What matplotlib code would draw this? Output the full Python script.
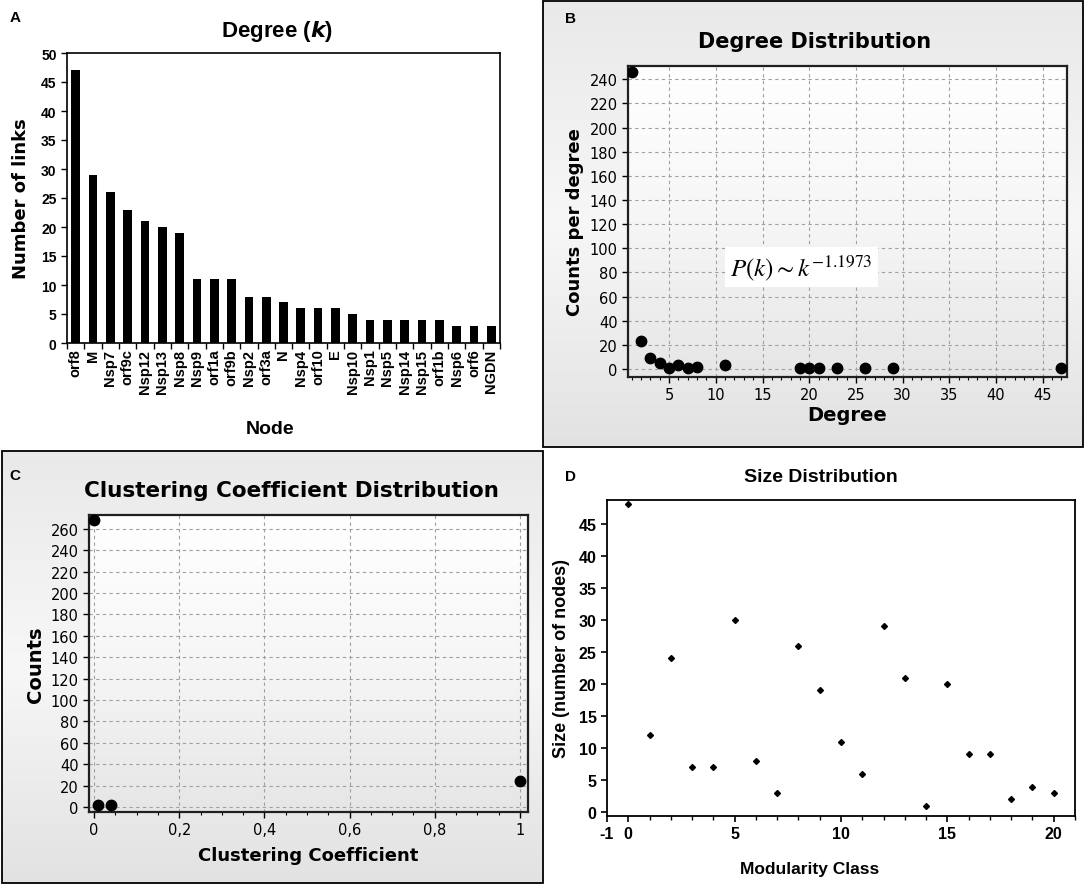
import numpy as np
import matplotlib
matplotlib.use('Agg')
import matplotlib.pyplot as plt
from matplotlib.patches import Rectangle
from matplotlib.colors import LinearSegmentedColormap
from matplotlib.ticker import MultipleLocator, FuncFormatter

# ---- data
# A: number of links per node
nodes = ['orf8', 'M', 'Nsp7', 'orf9c', 'Nsp12', 'Nsp13', 'Nsp8', 'Nsp9', 'orf1a', 'orf9b',
         'Nsp2', 'orf3a', 'N', 'Nsp4', 'orf10', 'E', 'Nsp10', 'Nsp1', 'Nsp5', 'Nsp14',
         'Nsp15', 'orf1b', 'Nsp6', 'orf6', 'NGDN']
links = [47, 29, 26, 23, 21, 20, 19, 11, 11, 11, 8, 8, 7, 6, 6, 6, 5, 4, 4, 4, 4, 4, 3, 3, 3]

# B: degree distribution
degree = [1, 2, 3, 4, 5, 6, 7, 8, 11, 19, 20, 21, 23, 26, 29, 47]
counts_per_degree = [246, 23, 9, 5, 1, 3, 1, 2, 3, 1, 1, 1, 1, 1, 1, 1]

# C: clustering coefficient distribution
clust_coef = [0, 0.008, 0.04, 1]
clust_counts = [268, 2, 2, 24]

# D: modularity class size distribution
mod_class = list(range(21))
mod_size = [48, 12, 24, 7, 7, 30, 8, 3, 26, 19, 11, 6, 29, 21, 1, 20, 9, 9, 2, 4, 3]

W, H = 1085, 887
plt.rcParams['font.family'] = 'DejaVu Sans'
plt.rcParams['axes.unicode_minus'] = False
fig = plt.figure(figsize=(W / 100, H / 100), dpi=100)
fig.patch.set_facecolor('white')


def box(left, top, right, bottom):
    return [left / W, (H - bottom) / H, (right - left) / W, (bottom - top) / H]


# background layer in pixel coords
bg = fig.add_axes([0, 0, 1, 1], zorder=-1)


def gradient(x0, y0, x1, y1, colors):
    cmap = LinearSegmentedColormap.from_list('g', colors)
    img = np.linspace(0, 1, 256).reshape(-1, 1)
    bg.imshow(img, cmap=cmap, extent=(x0, x1, y1, y0), aspect='auto', interpolation='bilinear')


gradient(543, 2, 1083, 448, ['#e9e9e9', '#f7f7f7', '#e2e2e2'])
gradient(2, 452, 543, 884, ['#e9e9e9', '#f7f7f7', '#e2e2e2'])
gradient(628, 67, 1067, 378, ['#ffffff', '#f6f6f6', '#e6e6e6'])
gradient(89, 516, 528, 813, ['#ffffff', '#f6f6f6', '#e6e6e6'])
bg.add_patch(Rectangle((543, 2), 540, 446, fill=False, ec='black', lw=1.3))
bg.add_patch(Rectangle((2, 452), 541, 432, fill=False, ec='black', lw=1.3))
bg.set_xlim(0, W)
bg.set_ylim(H, 0)
bg.axis('off')

lab_font = dict(family='Liberation Sans', fontweight='bold', fontsize=11)
bg.text(15, 18, 'A', ha='center', va='center', **lab_font)
bg.text(570, 19, 'B', ha='center', va='center', **lab_font)
bg.text(15, 476, 'C', ha='center', va='center', **lab_font)
bg.text(570, 477, 'D', ha='center', va='center', **lab_font)

# ---- A: bar chart
axA = fig.add_axes(box(67, 54, 500, 344))
x = np.arange(len(nodes))
axA.bar(x, links, width=0.5, color='black')
axA.set_xlim(-0.5, len(nodes) - 0.5)
axA.set_ylim(0, 50)
axA.set_yticks(range(0, 51, 5))
axA.set_xticks(np.arange(-0.5, len(nodes), 1))
axA.set_xticklabels([])
axA.set_xticks(x, minor=True)
axA.set_xticklabels(nodes, minor=True, rotation=90, fontsize=10.5, fontweight='bold',
                    family='Liberation Sans')
axA.tick_params(axis='x', which='major', length=4, width=1)
axA.tick_params(axis='x', which='minor', length=0, pad=4)
axA.tick_params(axis='y', length=4, width=1)
for t in axA.get_yticklabels():
    t.set_fontweight('bold')
    t.set_family('Liberation Sans')
    t.set_fontsize(10)
for s in axA.spines.values():
    s.set_linewidth(1.2)
axA.set_title('Degree ($\\mathbfit{k}$)', fontsize=16, fontweight='bold',
              family='Liberation Sans', pad=12, x=0.485)
axA.set_ylabel('Number of links', fontsize=13, fontweight='bold', labelpad=8)
axA.set_xlabel('Node', fontsize=14, fontweight='bold', family='Liberation Sans',
               labelpad=20, x=0.469)


def style_java(ax):
    ax.set_facecolor('none')
    ax.grid(True, which='major', color='#a0a0a0', linestyle=(0, (3, 3)), linewidth=0.8)
    ax.set_axisbelow(True)
    for s in ax.spines.values():
        s.set_linewidth(1.6)
        s.set_color('#202020')
    ax.tick_params(which='major', length=4, width=1, labelsize=10.5)
    ax.tick_params(which='minor', length=2.5, width=0.8)


# ---- B: degree distribution
axB = fig.add_axes(box(628, 67, 1067, 378))
style_java(axB)
axB.plot(degree, counts_per_degree, 'o', color='black', markersize=7.5, zorder=3)
axB.set_xlim(0.6, 47.6)
axB.set_ylim(-6.7, 251)
axB.xaxis.set_major_locator(MultipleLocator(5))
axB.xaxis.set_minor_locator(MultipleLocator(1))
axB.yaxis.set_major_locator(MultipleLocator(20))
axB.set_title('Degree Distribution', fontsize=15, fontweight='bold', pad=14, x=0.424)
axB.set_ylabel('Counts per degree', fontsize=13, fontweight='bold', labelpad=4)
axB.set_xlabel('Degree', fontsize=14, fontweight='bold', labelpad=2)
axB.text(0.395, 0.354, '$P\\left(k\\right) \\sim k^{-1.1973}$', transform=axB.transAxes,
         ha='center', va='center', fontsize=18, math_fontfamily='stix',
         bbox=dict(facecolor='white', edgecolor='none', pad=4), zorder=4)

# ---- C: clustering coefficient distribution
axC = fig.add_axes(box(89, 516, 528, 813))
style_java(axC)
axC.plot(clust_coef, clust_counts, 'o', color='black', markersize=7.5, zorder=3, clip_on=False)
axC.set_xlim(-0.012, 1.019)
axC.set_ylim(-4.7, 273)
axC.xaxis.set_major_locator(MultipleLocator(0.2))
axC.xaxis.set_minor_locator(MultipleLocator(0.05))
axC.yaxis.set_major_locator(MultipleLocator(20))
axC.xaxis.set_major_formatter(FuncFormatter(lambda v, p: ('%g' % round(v, 2)).replace('.', ',')))
axC.set_title('Clustering Coefficient Distribution', fontsize=15.5, fontweight='bold',
              pad=14, x=0.46)
axC.set_ylabel('Counts', fontsize=14, fontweight='bold', labelpad=4)
axC.set_xlabel('Clustering Coefficient', fontsize=13, fontweight='bold', labelpad=6)

# ---- D: size distribution
axD = fig.add_axes(box(607, 501, 1075, 817))
axD.plot(mod_class, mod_size, 'D', color='black', markersize=3)
axD.set_xlim(-1, 21)
axD.set_ylim(-0.6, 48.7)
axD.set_xticks([-1, 0, 5, 10, 15, 20])
axD.xaxis.set_minor_locator(MultipleLocator(1))
axD.set_yticks(range(0, 46, 5))
axD.tick_params(which='major', length=4, width=1.2, labelsize=11.5)
axD.tick_params(which='minor', length=3, width=1)
for t in axD.get_xticklabels() + axD.get_yticklabels():
    t.set_fontweight('bold')
    t.set_family('Liberation Sans')
for s in axD.spines.values():
    s.set_linewidth(1.3)
axD.set_title('Size Distribution', fontsize=14, fontweight='bold', family='Liberation Sans',
              pad=14, x=0.457)
axD.set_ylabel('Size (number of nodes)', fontsize=13, fontweight='bold', family='Liberation Sans',
               labelpad=6)
axD.set_xlabel('Modularity Class', fontsize=12.5, fontweight='bold', family='Liberation Sans',
               labelpad=14, x=0.432)

plt.savefig('out.png', dpi=100)
